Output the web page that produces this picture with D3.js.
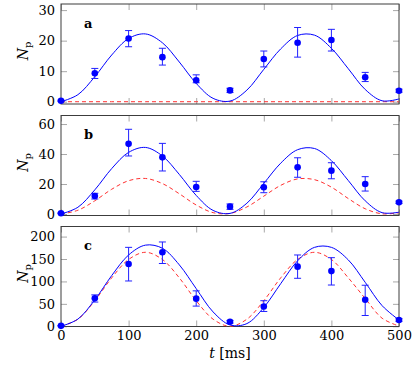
<!DOCTYPE html>
<html>
<head>
<meta charset="utf-8">
<script src="https://cdn.jsdelivr.net/npm/d3@7"></script>
<style>
body { margin: 0; background: #fff; }
svg text { font-family: "DejaVu Serif", serif; fill: #000; }
</style>
</head>
<body>
<div id="chart"></div>
<script>
// measured times (ms)
var tData = [0, 50, 100, 150, 200, 250, 300, 350, 400, 450, 500];
// time grid for the fitted curves (ms)
var tFit = [0, 25, 50, 75, 100, 125, 150, 175, 200, 225, 250, 275, 300, 325, 350, 375, 400, 425, 450, 475, 500];

// panel a
var aVal = [0.3, 9.3, 20.7, 14.6, 7.0, 3.7, 14.0, 19.3, 20.2, 8.0, 3.6];
var aLo  = [0.1, 7.6, 18.0, 12.0, 6.2, 3.0, 11.4, 14.6, 16.6, 6.6, 3.1];
var aHi  = [0.5, 10.9, 23.3, 17.5, 8.8, 4.4, 16.6, 24.3, 23.7, 9.6, 4.1];
var aFit = [0, 2.3, 8.2, 15.3, 20.7, 22.2, 19.3, 13.0, 6.0, 1.1, 0.2, 3.8, 10.6, 17.3, 21.7, 21.8, 17.5, 10.8, 4.0, 0.3, 0.9];
var aRed = [0, 0, 0, 0, 0, 0, 0, 0, 0, 0, 0, 0, 0, 0, 0, 0, 0, 0, 0, 0, 0];

// panel b
var bVal = [0.5, 12.0, 46.8, 37.8, 18.0, 4.9, 17.8, 31.1, 28.9, 20.0, 7.8];
var bLo  = [0.2, 10.0, 38.7, 28.7, 15.1, 3.1, 14.2, 24.5, 23.5, 15.3, 7.0];
var bHi  = [0.8, 13.8, 56.5, 47.1, 21.8, 6.7, 21.5, 37.5, 34.2, 24.9, 8.6];
var bFit = [0, 4.5, 16.1, 30.3, 41.1, 44.4, 38.7, 26.4, 12.4, 2.4, 0.4, 7.2, 20.4, 33.9, 42.9, 43.7, 35.6, 22.3, 8.8, 0.9, 1.2];
var bRed = [0, 2.5, 8.8, 16.5, 22.2, 23.7, 20.3, 13.5, 6.0, 0.9, 0.4, 4.7, 11.9, 19.1, 23.4, 22.9, 17.9, 10.3, 3.5, 0.1, 0.8];

// panel c
var cVal = [1.0, 62.5, 139, 165, 61.6, 10, 44, 133, 123, 59, 14];
var cLo  = [0.5, 54, 101, 140, 45, 7, 33, 107, 92, 24, 11];
var cHi  = [1.5, 70, 176, 188, 79, 13, 57, 159, 153, 91.5, 17];
var cFit = [0, 16, 59, 113, 159, 181, 174, 137, 84, 32, 3, 6, 42, 95, 146, 176, 176, 148, 98, 46, 14];
var cRed = [0, 15.8, 57, 108, 149, 165, 149, 108, 57, 15.8, 0, 15.8, 57, 108, 149, 165, 149, 108, 62, 18, 0.5];

var yTicksA = [0, 10, 20, 30];
var yTicksB = [0, 20, 40, 60];
var yTicksC = [0, 50, 100, 150, 200];
var xTicks = [0, 100, 200, 300, 400, 500];
var letters = ["a", "b", "c"];

var width = 416, height = 368;
var left = 61, right = 399;
var panelH = 100;
var panelTop = [4, 115.5, 226.5];
var tickLen = 6;
var serif = "'DejaVu Serif', serif";

var panels = [
    {val: aVal, lo: aLo, hi: aHi, fit: aFit, red: aRed, ticks: yTicksA, dom: [-0.75, 32]},
    {val: bVal, lo: bLo, hi: bHi, fit: bFit, red: bRed, ticks: yTicksB, dom: [-1, 65.7]},
    {val: cVal, lo: cLo, hi: cHi, fit: cFit, red: cRed, ticks: yTicksC, dom: [-0.5, 222.5]}
];

var svg = d3.select("#chart").append("svg")
    .attr("width", width)
    .attr("height", height);

var x = d3.scaleLinear().domain([0, 500]).range([left, right]);

panels.forEach(function (p, i) {
    var top = panelTop[i], bottom = top + panelH;
    var y = d3.scaleLinear().domain(p.dom).range([bottom, top]);
    var g = svg.append("g");

    // ticks (inside, on all four sides)
    var xb = g.append("g").attr("transform", "translate(0," + bottom + ")")
        .call(d3.axisBottom(x).tickValues(xTicks).tickSize(-tickLen).tickPadding(4)
            .tickFormat(i == 2 ? d3.format("d") : ""));
    var xt = g.append("g").attr("transform", "translate(0," + top + ")")
        .call(d3.axisTop(x).tickValues(xTicks).tickSize(-tickLen).tickFormat(""));
    var yl = g.append("g").attr("transform", "translate(" + left + ",0)")
        .call(d3.axisLeft(y).tickValues(p.ticks).tickSize(-tickLen).tickPadding(6));
    var yr = g.append("g").attr("transform", "translate(" + right + ",0)")
        .call(d3.axisRight(y).tickValues(p.ticks).tickSize(-tickLen).tickFormat(""));
    [xb, xt, yl, yr].forEach(function (ax) {
        ax.attr("font-family", null).attr("font-size", null);
        ax.select(".domain").remove();
        ax.selectAll("line").attr("stroke", "#a8a8a8");
        ax.selectAll("text").style("font-size", "13px")
            .style("font-family", serif).attr("fill", "#000");
    });

    // frame
    g.append("rect")
        .attr("x", left).attr("y", top)
        .attr("width", right - left).attr("height", panelH)
        .attr("fill", "none").attr("stroke", "#3c3c3c").attr("stroke-width", 1);

    var line = d3.line()
        .x(function (d, j) { return x(tFit[j]); })
        .y(function (d) { return y(d); })
        .curve(d3.curveCatmullRom.alpha(0.5));

    g.append("path").datum(p.red)
        .attr("d", line)
        .attr("fill", "none").attr("stroke", "#ff3030")
        .attr("stroke-width", 1).attr("stroke-dasharray", "4,3");

    g.append("path").datum(p.fit)
        .attr("d", line)
        .attr("fill", "none").attr("stroke", "#0000ff").attr("stroke-width", 1);

    // error bars
    var eb = g.append("g").attr("stroke", "#2020ff").attr("stroke-width", 1);
    tData.forEach(function (t, j) {
        var cx = x(t);
        eb.append("line").attr("x1", cx).attr("x2", cx).attr("y1", y(p.lo[j])).attr("y2", y(p.hi[j]));
        eb.append("line").attr("x1", cx - 3.5).attr("x2", cx + 3.5).attr("y1", y(p.lo[j])).attr("y2", y(p.lo[j]));
        eb.append("line").attr("x1", cx - 3.5).attr("x2", cx + 3.5).attr("y1", y(p.hi[j])).attr("y2", y(p.hi[j]));
    });

    g.selectAll("circle.pt").data(p.val).enter().append("circle")
        .attr("class", "pt")
        .attr("cx", function (d, j) { return x(tData[j]); })
        .attr("cy", function (d) { return y(d); })
        .attr("r", 3.3)
        .attr("fill", "#0000ff");

    // panel letter
    g.append("text")
        .attr("x", 84).attr("y", top + 23.5)
        .style("font-family", serif)
        .attr("font-size", 13).attr("font-weight", "bold")
        .text(letters[i]);

    // y label N_p
    var lab = g.append("text")
        .attr("transform", "translate(28," + (top + panelH / 2 - 3) + ") rotate(-90)")
        .attr("text-anchor", "middle")
        .style("font-family", serif)
        .attr("font-size", 14);
    lab.append("tspan").attr("font-style", "italic").text("N");
    lab.append("tspan").attr("font-size", 10).attr("dy", 3).text("p");
});

// x label
var xl = svg.append("text")
    .attr("x", (left + right) / 2).attr("y", 358)
    .attr("text-anchor", "middle")
    .style("font-family", serif)
    .attr("font-size", 14);
xl.append("tspan").attr("font-style", "italic").text("t");
xl.append("tspan").text(" [ms]");
</script>
</body>
</html>
